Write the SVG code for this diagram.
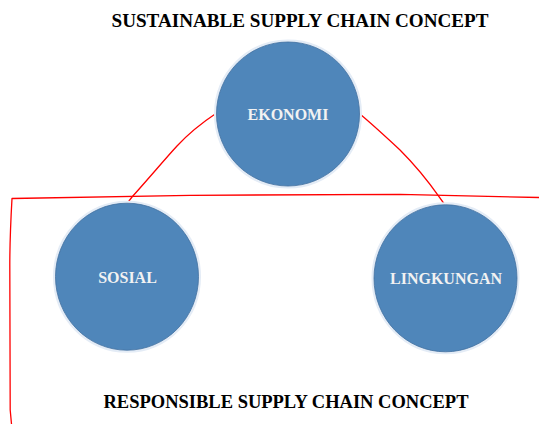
<svg xmlns="http://www.w3.org/2000/svg" width="539" height="424" viewBox="0 0 539 424">
  <style>
    .title { font-family: "Liberation Serif", "Times New Roman", serif; font-weight: bold; fill: #000000; text-anchor: middle; }
    .node-shape { fill: #4F86BA; stroke: #41709F; stroke-width: 0.8; }
    .node-halo { fill: none; stroke: #E4ECF6; stroke-width: 3; }
    .node-label { font-family: "Liberation Serif", "Times New Roman", serif; font-weight: bold; font-size: 16px; fill: #F2F2F2; text-anchor: middle; }
    .link { fill: none; stroke: #FF0000; stroke-width: 1.3; stroke-linejoin: round; stroke-linecap: round; }
  </style>

  <rect width="539" height="424" fill="#FFFFFF"/>

  <text class="title" x="300" y="26.5" font-size="19" textLength="377" lengthAdjust="spacingAndGlyphs">SUSTAINABLE SUPPLY CHAIN CONCEPT</text>
  <text class="title" x="286" y="407.5" font-size="18.5" textLength="365" lengthAdjust="spacingAndGlyphs">RESPONSIBLE SUPPLY CHAIN CONCEPT</text>

  <g id="connectors">
    <!-- bracket enclosing the responsible concept -->
    <path class="link" d="M539,197.5 L400,194.3 L190,195.3 L12,198.5 C10.5,225 9.8,245 9.8,265 L10.2,410 L11.5,424"/>
    <!-- ekonomi to sosial -->
    <path class="link" d="M217,112.7 C200,124 188,134 177,146 C165,159 150,177 132,197 L127.7,202.7"/>
    <!-- ekonomi to lingkungan -->
    <path class="link" d="M359,113.3 C372,124 386,137 400,150 C415,165 428,181 439,196.7 L445,205"/>
  </g>

  <g id="ekonomi">
    <ellipse class="node-halo" cx="288" cy="114" rx="72.5" ry="73"/>
    <ellipse class="node-shape" cx="288" cy="114" rx="71.5" ry="72"/>
    <text class="node-label" x="288" y="119.5">EKONOMI</text>
  </g>

  <g id="sosial">
    <ellipse class="node-halo" cx="127" cy="276.7" rx="72.5" ry="74.5"/>
    <ellipse class="node-shape" cx="127" cy="276.7" rx="71.5" ry="73.5"/>
    <text class="node-label" x="127.5" y="283.3">SOSIAL</text>
  </g>

  <g id="lingkungan">
    <ellipse class="node-halo" cx="445.5" cy="278.3" rx="72.5" ry="74.5"/>
    <ellipse class="node-shape" cx="445.5" cy="278.3" rx="71.5" ry="73.5"/>
    <text class="node-label" x="446" y="283.7">LINGKUNGAN</text>
  </g>
</svg>
